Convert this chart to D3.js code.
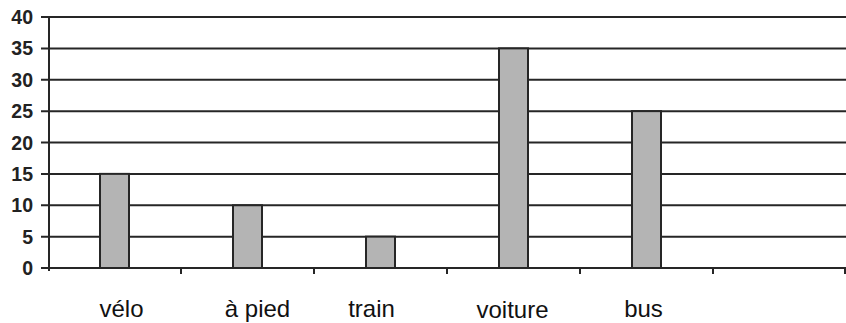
<!DOCTYPE html>
<html>
<head>
<meta charset="utf-8">
<script src="https://cdn.jsdelivr.net/npm/d3@7"></script>
<style>
  html, body { margin: 0; padding: 0; background: #fff; }
  svg { display: block; }
</style>
</head>
<body>
<svg id="chart" width="846" height="323"></svg>
<script>
// Mode de transport : nombre d'élèves
const categories = ["vélo", "à pied", "train", "voiture", "bus", ""];
const values = [15, 10, 5, 35, 25, null];
const yTicks = [0, 5, 10, 15, 20, 25, 30, 35, 40];
// small horizontal nudges for the hand-placed category captions
const labelNudge = [7, 10, -9, -1, -3, 0];
const labelDrop = [0, 0, 0, 1, 0, 0];

const plotLeft = 48, plotRight = 846, plotTop = 17, plotBottom = 268;

const svg = d3.select("#chart");

const x = d3.scaleBand().domain(categories).range([plotLeft, plotRight]).paddingInner(0).paddingOuter(0);
const y = d3.scaleLinear().domain([0, 40]).range([plotBottom, plotTop]);

const ink = "#262626";

// horizontal gridlines
svg.append("g")
  .selectAll("line")
  .data(yTicks)
  .join("line")
  .attr("x1", plotLeft - 7)
  .attr("x2", plotRight)
  .attr("y1", d => y(d))
  .attr("y2", d => y(d))
  .attr("stroke", ink)
  .attr("stroke-width", 2);

// y axis line
svg.append("line")
  .attr("x1", plotLeft + 1).attr("x2", plotLeft + 1)
  .attr("y1", y(40)).attr("y2", plotBottom + 3)
  .attr("stroke", ink).attr("stroke-width", 2);

// y tick labels
svg.append("g")
  .selectAll("text")
  .data(yTicks)
  .join("text")
  .attr("x", 33)
  .attr("y", d => y(d) + 7)
  .attr("text-anchor", "end")
  .attr("font-family", "Liberation Sans, Arial, sans-serif")
  .attr("font-weight", "bold")
  .attr("font-size", 19.5)
  .attr("fill", "#222")
  .text(d => d);

// category separator ticks on the x axis
const sepX = categories.map(c => x(c)).slice(1).concat([plotRight - 1]);
svg.append("g")
  .selectAll("line")
  .data(sepX)
  .join("line")
  .attr("x1", d => d).attr("x2", d => d)
  .attr("y1", plotBottom).attr("y2", plotBottom + 6)
  .attr("stroke", ink).attr("stroke-width", 2);

// bars
const barW = 29;
svg.append("g")
  .selectAll("rect")
  .data(categories.map((c, i) => ({ c, v: values[i] })).filter(d => d.v != null))
  .join("rect")
  .attr("x", d => x(d.c) + x.bandwidth() / 2 - barW / 2)
  .attr("y", d => y(d.v))
  .attr("width", barW)
  .attr("height", d => y(0) - y(d.v))
  .attr("fill", "#b4b4b4")
  .attr("stroke", ink)
  .attr("stroke-width", 2);

// category captions
svg.append("g")
  .selectAll("text")
  .data(categories.map((c, i) => ({ c, i })).filter(d => d.c !== ""))
  .join("text")
  .attr("x", d => x(d.c) + x.bandwidth() / 2 + labelNudge[d.i])
  .attr("y", d => 317 + labelDrop[d.i])
  .attr("text-anchor", "middle")
  .attr("font-family", "Liberation Sans, Arial, sans-serif")
  .attr("font-size", 24)
  .attr("fill", "#111")
  .text(d => d.c);
</script>
</body>
</html>
